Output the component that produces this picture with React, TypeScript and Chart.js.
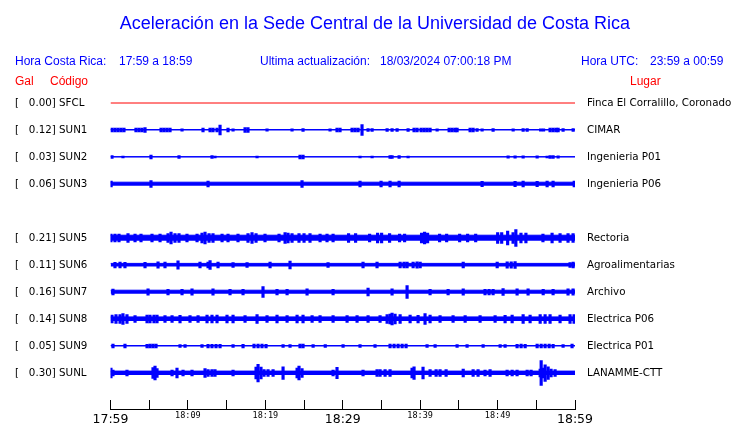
import React, { useEffect, useRef } from "react";
import { Chart, registerables } from "chart.js";

Chart.register(...registerables);

// ---- data ----
// row slots (slot 4 is empty in the display)
const codes = ["SFCL", "SUN1", "SUN2", "SUN3", "", "SUN5", "SUN6", "SUN7", "SUN8", "SUN9", "SUNL"];
const peakGal = [0.0, 0.12, 0.03, 0.06, null, 0.21, 0.11, 0.16, 0.14, 0.05, 0.3];
const places = [
  "Finca El Corralillo, Coronado",
  "CIMAR",
  "Ingenieria P01",
  "Ingenieria P06",
  "",
  "Rectoria",
  "Agroalimentarias",
  "Archivo",
  "Electrica P06",
  "Electrica P01",
  "LANAMME-CTT",
];
// continuous background noise level of each trace (amplitude units; 27 units = one row)
const noiseLevel = [0, 0.5, 0.4, 1.8, null, 2.8, 1.6, 1.8, 2.1, 0.5, 1.9];

// bursts: [minutes after 17:59, half amplitude]
const sfclBursts: [number, number][] = [];
const sun1Bursts: [number, number][] = [
  [0.19, 2], [0.58, 2], [0.97, 2], [1.36, 2], [1.74, 2],
  [3.29, 2], [3.68, 2], [4.07, 2], [4.46, 2.3],
  [6.53, 2], [6.91, 2], [7.3, 2], [7.69, 2], [9.24, 1.2],
  [11.95, 2], [12.86, 2], [13.24, 2], [13.76, 2], [14.15, 5], [15.18, 2], [15.83, 1.2],
  [17.38, 2.3], [17.76, 2.3], [20.22, 1.2], [23.45, 1.2], [24.87, 1.5], [28.36, 1.2],
  [29.26, 2], [29.65, 2], [31.2, 2], [31.59, 2], [31.98, 2], [32.49, 5.5], [33.27, 1.5],
  [33.79, 1.5], [35.73, 1.5], [36.37, 1.5], [37.02, 1.5], [38.44, 1.5], [39.21, 2], [39.6, 2],
  [40.12, 2], [40.51, 2], [40.89, 2], [41.28, 2], [42.19, 1.2],
  [43.74, 2], [44.12, 2], [44.51, 2], [44.77, 2], [46.45, 2], [46.84, 2], [47.35, 1.5],
  [48.0, 1.2], [49.42, 1.5], [52.01, 1.2], [53.3, 1.5], [53.82, 1.5], [55.56, 1.2], [55.94, 1.2],
  [56.78, 2], [57.17, 2], [57.56, 2], [57.82, 2], [58.46, 1.5], [59.76, 1.5],
];
const sun2Bursts: [number, number][] = [
  [0.19, 1.5], [1.61, 1], [5.23, 1.8], [8.85, 1.3], [13.11, 1.3], [13.5, 1], [18.93, 1],
  [24.48, 1.8], [24.87, 1.8], [32.23, 1], [33.79, 1], [36.11, 1.5], [36.37, 1.5], [37.28, 1.5],
  [38.44, 1], [51.36, 1.2], [52.26, 1.2], [53.3, 1.2], [55.11, 1.2], [56.4, 1], [56.78, 1.5],
  [57.17, 1.5], [57.82, 1.2],
];
const sun3Bursts: [number, number][] = [
  [0.08, 3], [5.23, 3.5], [12.6, 3], [24.74, 3.5], [32.23, 2.8], [34.95, 3], [36.11, 2.8],
  [37.28, 3], [48.0, 2.7], [52.26, 2.7], [53.3, 3], [55.11, 2.7], [56.4, 3], [57.17, 3], [59.9, 2.8],
];
const sun5Bursts: [number, number][] = [
  [0.06, 4], [0.58, 4], [1.1, 4], [2.26, 4.5], [3.17, 4], [3.94, 4], [5.36, 3.8], [6.4, 4],
  [7.43, 4.5], [7.82, 6], [8.33, 4.5], [8.85, 4.5], [9.88, 4], [11.18, 4], [11.82, 5], [12.21, 6],
  [12.73, 4.5], [13.24, 4.5], [14.41, 4], [15.18, 4], [16.47, 3.8], [17.76, 4.3], [18.28, 5.5],
  [18.8, 4.3], [19.96, 4], [21.77, 4], [22.55, 5.5], [22.93, 5], [23.45, 4.5], [24.35, 4.3],
  [25.0, 4.3], [25.77, 4.3], [27.07, 4], [27.97, 4], [28.75, 4], [30.75, 4.5], [31.66, 4.5],
  [33.47, 4], [34.5, 5], [35.02, 5], [36.05, 4.5], [37.34, 4], [37.99, 4], [40.18, 5], [40.57, 6],
  [40.96, 5], [42.51, 4], [43.42, 4], [45.1, 4], [46.13, 4], [47.17, 4], [50.01, 5.5], [50.53, 5.5],
  [51.3, 7], [52.0, 5.5], [52.36, 8.5], [53.02, 5], [53.66, 5], [55.86, 4], [57.04, 5], [58.07, 4.5],
  [59.1, 4.5], [59.75, 4.5],
];
const sun6Bursts: [number, number][] = [
  [0.58, 2.8], [1.23, 3], [1.87, 2.8], [4.46, 2.8], [6.14, 3.2], [7.04, 3], [8.72, 4.2],
  [11.56, 3], [12.6, 3], [12.86, 4.5], [13.89, 3], [15.83, 2.5], [17.64, 2.5], [20.61, 3],
  [23.19, 4], [28.1, 2.5], [32.62, 3], [34.43, 3], [37.41, 3], [37.92, 3], [38.31, 3], [39.09, 3],
  [39.6, 3.2], [40.0, 3], [45.56, 3], [49.95, 3], [51.24, 3.2], [51.76, 3.2], [52.26, 3.5],
  [59.36, 2.5], [59.76, 3],
];
const sun7Bursts: [number, number][] = [
  [0.32, 3], [4.85, 3.2], [7.43, 2.8], [9.24, 2.8], [10.53, 3.2], [13.24, 3.2], [15.44, 2.8],
  [17.12, 2.8], [19.7, 5.5], [21.51, 2.8], [22.81, 2.8], [25.39, 3.2], [28.75, 2.8], [33.27, 4],
  [36.37, 3.2], [38.31, 6.5], [41.28, 2.8], [43.61, 2.8], [45.56, 3.2], [48.38, 2.8], [48.9, 2.8],
  [49.42, 2.8], [50.71, 3.5], [52.52, 3.2], [53.94, 3.2], [55.89, 2.8], [57.17, 2.8], [59.1, 3.2],
  [59.75, 3.2],
];
const sun8Bursts: [number, number][] = [
  [0.19, 4], [0.71, 4.5], [1.23, 4.5], [1.61, 5.5], [2.13, 4.5], [3.17, 3.5], [4.72, 4], [5.1, 4],
  [5.62, 4], [6.01, 4], [7.04, 3.5], [7.95, 3.5], [8.98, 3.8], [10.27, 3.5], [11.31, 3.5],
  [12.47, 4], [13.11, 4], [13.76, 4], [15.05, 4], [15.83, 4], [17.38, 3.5], [18.93, 4.5],
  [20.22, 3.5], [21.51, 4], [22.81, 3.5], [24.1, 4], [24.87, 4], [26.04, 3.5], [27.07, 3.5],
  [28.75, 3.5], [30.56, 3.5], [31.85, 3.5], [33.27, 3.5], [34.82, 3.5], [35.73, 4.5], [36.11, 5],
  [36.37, 6], [36.76, 5], [37.41, 4.5], [38.7, 4], [39.73, 3.8], [40.63, 5.5], [41.28, 4],
  [42.57, 3.5], [44.25, 3.5], [45.81, 3.5], [47.74, 3.5], [49.68, 3.5], [50.97, 3.8], [51.88, 4],
  [53.3, 4.5], [54.2, 4], [55.5, 4.5], [56.14, 4.5], [56.78, 4.5], [58.07, 4], [59.36, 4.5],
  [59.88, 4.5],
];
const sun9Bursts: [number, number][] = [
  [0.32, 2], [1.87, 2], [4.72, 1.8], [5.1, 2], [5.49, 2], [5.88, 2], [8.98, 1.5], [9.63, 1.5],
  [11.82, 1.5], [12.6, 1.8], [13.11, 1.8], [13.63, 1.8], [14.15, 1.8], [15.83, 1.5], [17.12, 1.8],
  [18.54, 2], [19.06, 2], [19.57, 2], [20.09, 1.8], [22.29, 1.5], [23.19, 1.5], [24.48, 2],
  [24.87, 2], [26.17, 1.5], [27.74, 1.5], [30.04, 1.5], [32.23, 1.5], [34.17, 1.5], [36.11, 2],
  [36.63, 2], [37.15, 2], [37.67, 2], [38.18, 2], [40.89, 1.5], [41.93, 1.5], [44.77, 1.5],
  [46.06, 1.5], [48.13, 1.5], [50.33, 1.5], [50.97, 1.5], [52.52, 1.8], [53.04, 2], [53.56, 1.8],
  [55.11, 2], [55.63, 2], [56.14, 2], [56.66, 2], [57.17, 1.8], [58.46, 1.5], [59.62, 2],
];
const sunlBursts: [number, number][] = [
  [0.06, 5], [0.32, 3], [2.13, 3], [5.49, 5.5], [5.75, 7], [6.01, 4.5], [7.95, 3], [8.59, 5],
  [9.37, 3], [10.53, 3], [12.21, 4.5], [12.6, 3.5], [13.11, 3.5], [13.5, 3.5], [15.83, 3],
  [18.8, 6], [19.06, 8.8], [19.44, 6], [19.83, 3.5], [20.35, 3.5], [21.0, 3.5], [22.29, 6.3],
  [24.1, 5], [24.35, 7], [24.74, 4.5], [28.75, 3], [29.26, 5.7], [32.62, 3], [34.43, 3.5],
  [34.82, 3.5], [35.47, 3.5], [36.11, 3.5], [38.95, 5], [39.21, 6.3], [40.37, 6], [41.28, 3.5],
  [42.06, 3.5], [42.57, 3.5], [43.35, 3.5], [45.56, 4], [46.84, 3.5], [47.48, 3.5], [48.38, 3],
  [49.03, 3.5], [51.23, 3], [51.88, 3], [52.52, 3], [53.82, 3], [54.33, 3], [55.5, 4], [55.63, 12.5],
  [55.89, 5], [56.14, 8.3], [56.53, 6.3], [56.91, 4], [57.43, 3.5],
];
const bursts: [number, number][][] = [
  sfclBursts, sun1Bursts, sun2Bursts, sun3Bursts, [], sun5Bursts, sun6Bursts,
  sun7Bursts, sun8Bursts, sun9Bursts, sunlBursts,
];

// time axis (minutes after 17:59)
const timeLabels = ["17:59", "18:09", "18:19", "18:29", "18:39", "18:49", "18:59"];
const windowMinutes = 60;
const tickStepMinutes = 5;

const AMP_PER_ROW = 27;
const BLUE = "#0000ff";
const RED = "#ff0000";

function leftLabel(row: number): string {
  const g = peakGal[row];
  if (g === null || g === undefined) return "";
  return "[   " + g.toFixed(2) + "] " + codes[row];
}

export default function App() {
  const ref = useRef<HTMLCanvasElement>(null);

  useEffect(() => {
    if (!ref.current) return;
    const rows = codes.map((c, i) => (c ? i : -1)).filter((i) => i >= 0);
    const datasets: any[] = [];
    rows.forEach((row) => {
      const n = noiseLevel[row] as number;
      if (codes[row] === "SFCL") {
        datasets.push({
          type: "line",
          data: [{ x: 0, y: row }, { x: windowMinutes, y: row }],
          borderColor: RED,
          borderWidth: 1,
          pointRadius: 0,
          fill: false,
        });
      } else {
        const d = n / AMP_PER_ROW;
        datasets.push({
          type: "line",
          data: [{ x: 0, y: row - d }, { x: windowMinutes, y: row - d }],
          borderColor: BLUE,
          backgroundColor: BLUE,
          borderWidth: 1,
          pointRadius: 0,
          fill: { value: row + d },
        });
      }
    });
    const barData: any[] = [];
    bursts.forEach((list, row) =>
      list.forEach(([m, a]) => barData.push({ x: m, y: [row - a / AMP_PER_ROW, row + a / AMP_PER_ROW] }))
    );
    datasets.push({
      type: "bar",
      data: barData,
      backgroundColor: BLUE,
      borderWidth: 0,
      barThickness: 2.5,
      grouped: false,
    });

    const yRange = { min: -0.4815, max: 11.333 };
    const labelFont = { family: "DejaVu Sans", size: 10.3 };
    const chart = new Chart(ref.current, {
      type: "line",
      data: { datasets },
      options: {
        animation: false,
        responsive: false,
        events: [],
        layout: { padding: { left: 15, top: 90, right: 0, bottom: 0 } },
        plugins: { legend: { display: false }, tooltip: { enabled: false }, title: { display: false } },
        scales: {
          x: {
            type: "linear",
            position: "bottom",
            min: 0,
            max: windowMinutes,
            offset: false,
            grid: {
              display: true,
              offset: false,
              drawOnChartArea: false,
              drawTicks: true,
              tickLength: -9,
              color: "#000",
              lineWidth: 1,
            },
            border: { display: true, color: "#000", width: 1 },
            ticks: {
              stepSize: tickStepMinutes,
              autoSkip: false,
              maxRotation: 0,
              padding: 12.5,
              color: "#000",
              callback: (v: any) => {
                const n = Number(v);
                return n % 10 === 0 ? timeLabels[n / 10] : "";
              },
              font: (ctx: any) =>
                ctx.tick && ctx.tick.value % 30 === 0
                  ? { family: "DejaVu Sans", size: 12.5 }
                  : { family: "DejaVu Sans Mono", size: 8.5, lineHeight: 0.706 },
            },
            afterFit: (s: any) => {
              s.height = 14;
            },
          },
          y: {
            type: "linear",
            position: "left",
            reverse: true,
            stacked: false,
            ...yRange,
            grid: { display: false, drawTicks: false },
            border: { display: false },
            afterBuildTicks: (s: any) => {
              s.ticks = rows.map((v) => ({ value: v }));
            },
            ticks: {
              autoSkip: false,
              crossAlign: "far",
              padding: 0,
              color: "#000",
              font: labelFont,
              callback: (v: any) => leftLabel(Number(v)),
            },
            afterFit: (s: any) => {
              s.width = 95.5;
            },
          },
          y2: {
            type: "linear",
            position: "right",
            reverse: true,
            ...yRange,
            grid: { display: false, drawTicks: true, tickLength: 12 },
            border: { display: false },
            afterBuildTicks: (s: any) => {
              s.ticks = rows.map((v) => ({ value: v }));
            },
            ticks: {
              autoSkip: false,
              crossAlign: "near",
              padding: 0,
              color: "#000",
              font: labelFont,
              callback: (v: any) => places[Number(v)],
            },
            afterFit: (s: any) => {
              s.width = 165;
            },
          },
        },
      } as any,
    });
    return () => chart.destroy();
  }, []);

  const base: React.CSSProperties = {
    position: "absolute",
    fontFamily: '"Liberation Sans", Arial, sans-serif',
    whiteSpace: "pre",
    margin: 0,
  };
  const info: React.CSSProperties = { ...base, fontSize: 12, lineHeight: "12px", top: 55, color: BLUE };
  const head: React.CSSProperties = { ...base, fontSize: 12, lineHeight: "12px", top: 75, color: RED };

  return (
    <div style={{ position: "fixed", left: 0, top: 0, width: 740, height: 423, background: "#fff", overflow: "hidden" }}>
      <canvas ref={ref} width={740} height={423} style={{ position: "absolute", left: 0, top: 0, width: 740, height: 423 }} />
      <div style={{ ...base, left: 0, width: 750, textAlign: "center", top: 14, fontSize: 18, lineHeight: "18px", color: BLUE }}>
        Aceleración en la Sede Central de la Universidad de Costa Rica
      </div>
      <div style={{ ...info, left: 15 }}>Hora Costa Rica:</div>
      <div style={{ ...info, left: 119 }}>17:59 a 18:59</div>
      <div style={{ ...info, left: 260 }}>Ultima actualización:</div>
      <div style={{ ...info, left: 380 }}>18/03/2024 07:00:18 PM</div>
      <div style={{ ...info, left: 581 }}>Hora UTC:</div>
      <div style={{ ...info, left: 650 }}>23:59 a 00:59</div>
      <div style={{ ...head, left: 15 }}>Gal</div>
      <div style={{ ...head, left: 50 }}>Código</div>
      <div style={{ ...head, left: 630 }}>Lugar</div>
    </div>
  );
}
